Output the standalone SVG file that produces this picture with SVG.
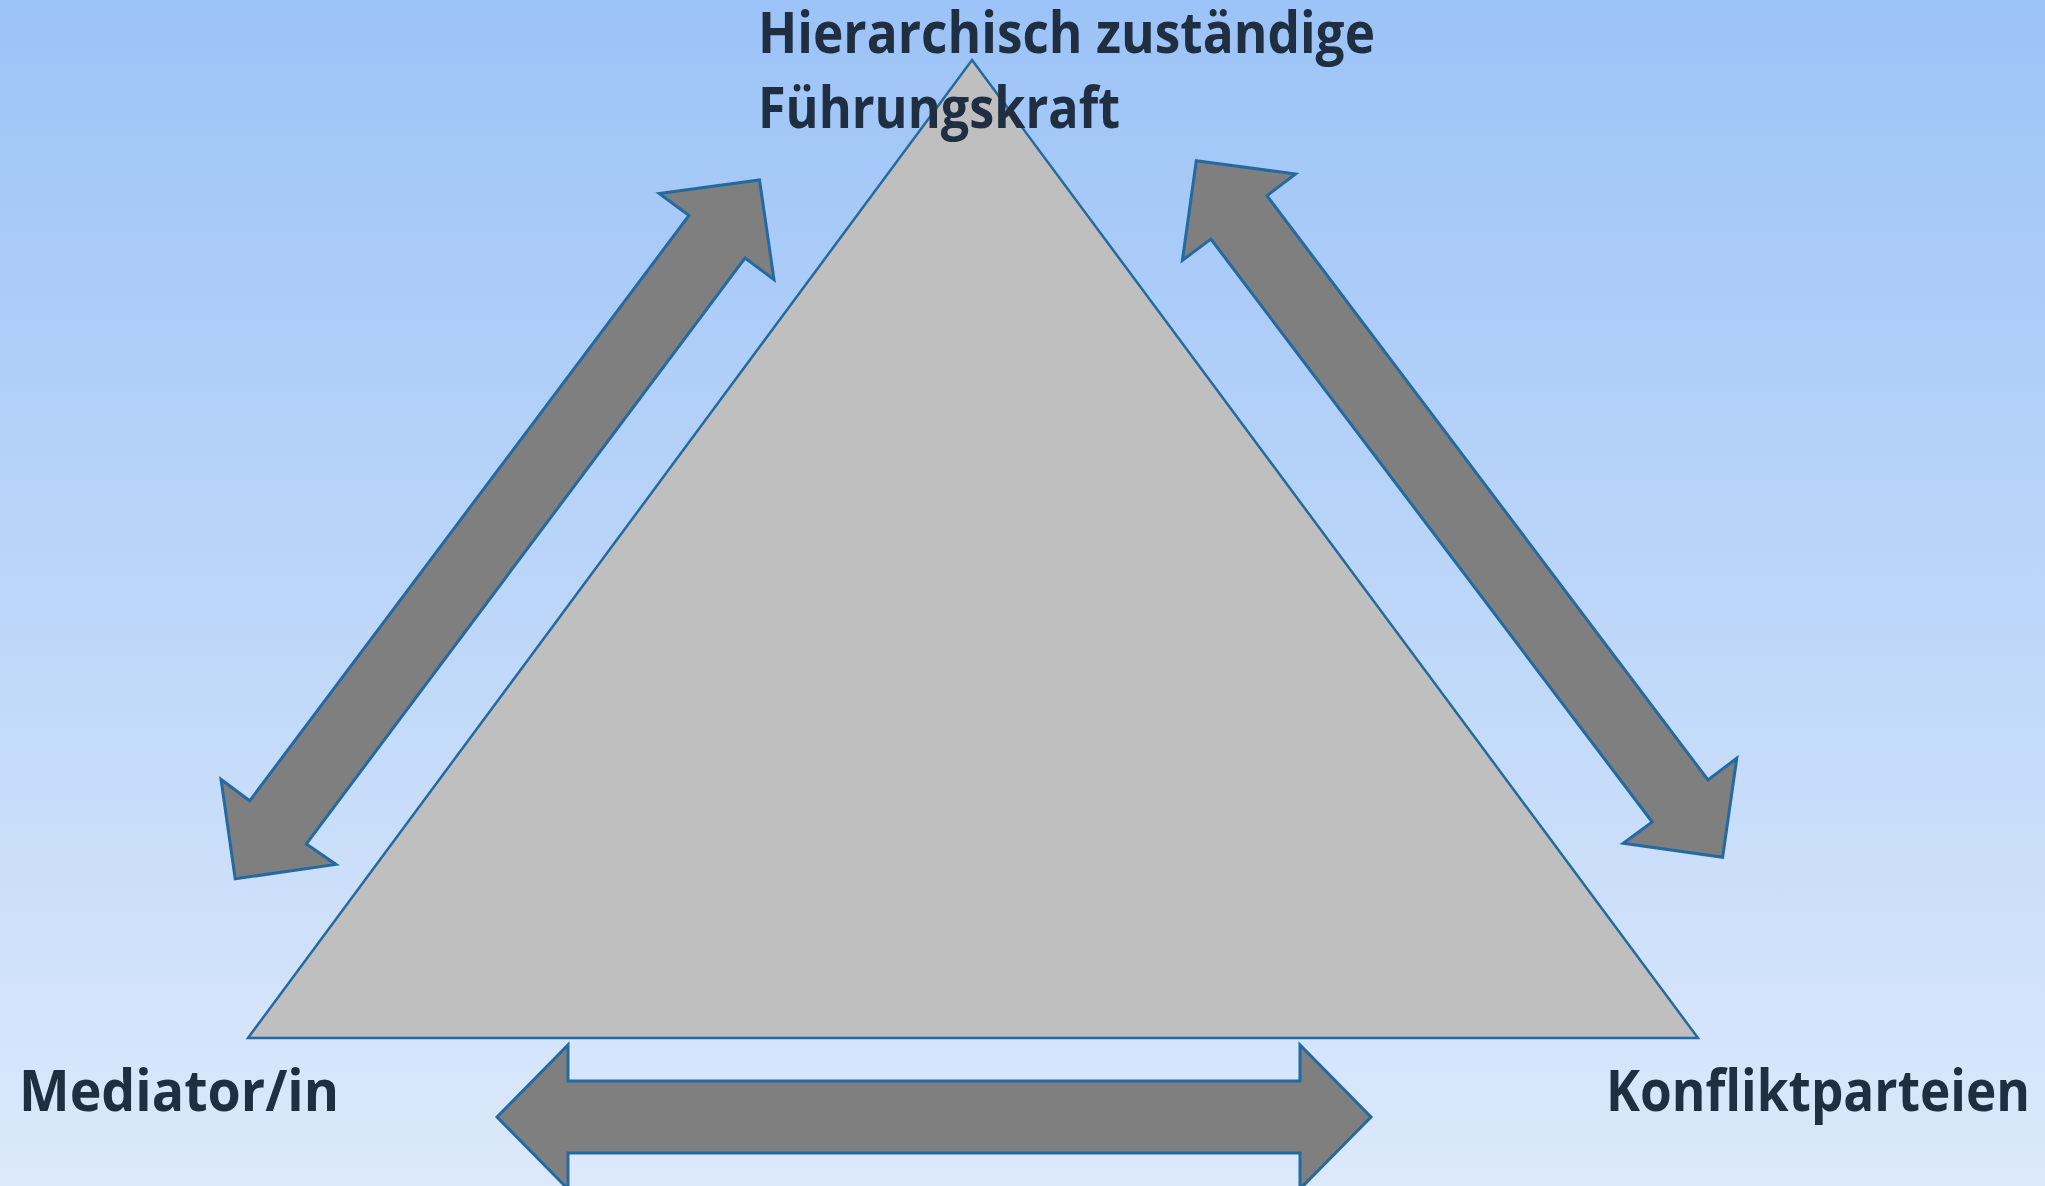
<svg xmlns="http://www.w3.org/2000/svg" width="2045" height="1186" viewBox="0 0 2045 1186">
<defs>
<linearGradient id="bg" x1="0" y1="0" x2="0" y2="1">
<stop offset="0" stop-color="#9cc3f7"/>
<stop offset="1" stop-color="#dce9fb"/>
</linearGradient>
<style>
.tri{fill:#bfbfbf;stroke:#246aa0;stroke-width:2.5;stroke-linejoin:miter}
.arr{fill:#7f7f7f;stroke:#246aa0;stroke-width:3;stroke-linejoin:miter}
.lbl{font-family:"Open Sans","Liberation Sans",sans-serif;font-weight:700;font-size:57px;fill:#1f2e40}
</style>
</defs>
<rect width="2045" height="1186" fill="url(#bg)"/>
<g id="triangle">
<polygon class="tri" points="972,60 1698,1038 248,1038"/>
</g>
<g id="connectors">
<polygon class="arr" points="759.5,180 774,279.6 745,258 306.4,843.9 335.9,864.4 235.2,878.8 221,779.3 249.7,800.8 689,215.5 659.2,193.5"/>
<polygon class="arr" points="1196.3,160.8 1295.5,174 1267,195.7 1708,780 1736.8,758.2 1722.6,857.3 1623.3,843.2 1652.2,822 1210.9,239.1 1182.4,260.3"/>
<polygon class="arr" points="497,1117 568,1045 568,1081 1300,1081 1300,1045 1371,1117 1300,1189 1300,1153 568,1153 568,1189"/>
</g>
<g id="node-top">
<text class="lbl" x="758" y="53" textLength="617" lengthAdjust="spacingAndGlyphs">Hierarchisch zuständige</text>
<text class="lbl" x="758" y="128" textLength="362" lengthAdjust="spacingAndGlyphs">Führungskraft</text>
</g>
<g id="node-left">
<text class="lbl" x="19" y="1111" textLength="320" lengthAdjust="spacingAndGlyphs">Mediator/in</text>
</g>
<g id="node-right">
<text class="lbl" x="1606" y="1111" textLength="424" lengthAdjust="spacingAndGlyphs">Konfliktparteien</text>
</g>
</svg>
